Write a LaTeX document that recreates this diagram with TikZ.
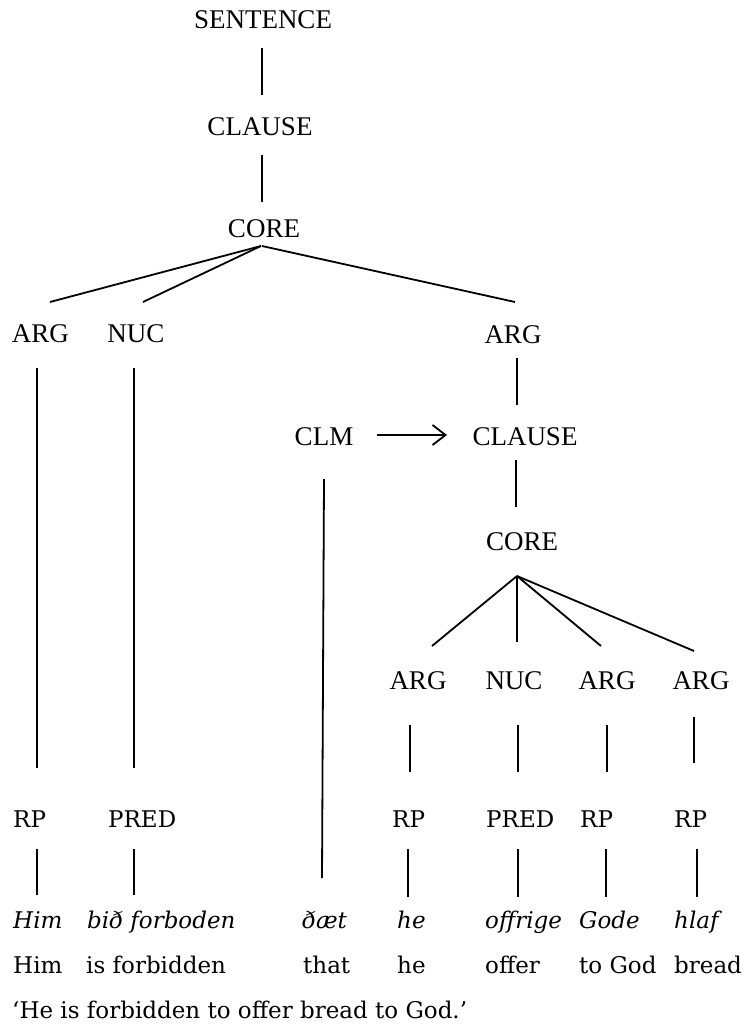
\documentclass[tikz,border=0pt]{standalone}
\usepackage{fontspec}
\setmainfont{DejaVu Serif}
\newfontfamily\treefont{Liberation Serif}
\usetikzlibrary{arrows.meta}

\tikzset{
  cat/.style={font=\treefont\fontsize{27}{30}\selectfont, inner sep=0pt, anchor=base},
  word/.style={font=\fontsize{23}{26}\selectfont, inner sep=0pt, anchor=base west},
  orig/.style={word, font=\itshape\fontsize{23}{26}\selectfont},
  branch/.style={line width=1.8pt, line cap=butt},
  marker/.style={branch, -{Straight Barb[length=13pt,width=20pt,line width=1.8pt]}},
}

\begin{document}
\begin{tikzpicture}[x=1pt, y=-1pt]
\useasboundingbox (0,0) rectangle (745,1025);

% --- layered structure of the main clause ---
\node[cat] (sent)    at (263,29)  {SENTENCE};
\node[cat] (clauseA) at (260,135) {CLAUSE};
\node[cat] (coreA)   at (264,237) {CORE};
\node[cat] (argA)    at (40.5,342) {ARG};
\node[cat] (nucA)    at (136,342) {NUC};
\node[cat] (argB)    at (513,343) {ARG};

% --- embedded clause and its linker ---
\node[cat] (clm)     at (324,445) {CLM};
\node[cat] (clauseB) at (525,445) {CLAUSE};
\node[cat] (coreB)   at (522,550) {CORE};
\node[cat] (argC)    at (418,689) {ARG};
\node[cat] (nucB)    at (514,689) {NUC};
\node[cat] (argD)    at (607,689) {ARG};
\node[cat] (argE)    at (701,689) {ARG};

% --- phrase level ---
\node[word] (rpA)   at (13,827)  {RP};
\node[word] (predA) at (108,827) {PRED};
\node[word] (rpB)   at (392,827) {RP};
\node[word] (predB) at (486,827) {PRED};
\node[word] (rpC)   at (580,827) {RP};
\node[word] (rpD)   at (674,827) {RP};

% --- Old English words ---
\node[orig] (himO)  at (13,928)  {Him};
\node[orig] (bidO)  at (87,928)  {bið forboden};
\node[orig] (daetO) at (302,928) {ðæt};
\node[orig] (heO)   at (397,928) {he};
\node[orig] (offO)  at (485,928) {offrige};
\node[orig] (godO)  at (579,928) {Gode};
\node[orig] (hlafO) at (674,928) {hlaf};

% --- gloss and translation ---
\node[word] (himG)  at (13,973)  {Him};
\node[word] (bidG)  at (86,973)  {is forbidden};
\node[word] (daetG) at (303,973) {that};
\node[word] (heG)   at (397,973) {he};
\node[word] (offG)  at (485,973) {offer};
\node[word] (godG)  at (579,973) {to God};
\node[word] (hlafG) at (674,973) {bread};
\node[word] (trans) at (12,1018) {‘He is forbidden to offer bread to God.’};

% --- branches of the main clause ---
\draw[branch] ([shift={(-1,19)}]sent.base) -- ([shift={(2,-40)}]clauseA.base);
\draw[branch] ([shift={(2,20)}]clauseA.base) -- ([shift={(-2,-35)}]coreA.base);
\draw[branch] ([shift={(-3,9)}]coreA.base) -- ([shift={(9.5,-40)}]argA.base);
\draw[branch] ([shift={(-3,9)}]coreA.base) -- ([shift={(7,-40)}]nucA.base);
\draw[branch] ([shift={(-2,9)}]coreA.base) -- ([shift={(2,-41)}]argB.base);
\draw[branch] ([shift={(-3.5,26)}]argA.base) -- ([shift={(24,-59)}]rpA.base west);
\draw[branch] ([shift={(-2,26)}]nucA.base) -- ([shift={(26,-59)}]predA.base west);
\draw[branch] ([shift={(4,15)}]argB.base) -- ([shift={(-8,-40)}]clauseB.base);

% --- clause linkage marker ---
\draw[marker] ([shift={(53,-10)}]clm.base) -- ([shift={(-78,-10)}]clauseB.base);
\draw[branch] ([shift={(0,34)}]clm.base) -- ([shift={(20,-50)}]daetO.base west);

% --- branches of the embedded clause ---
\draw[branch] ([shift={(-9,15)}]clauseB.base) -- ([shift={(-6,-43)}]coreB.base);
\draw[branch] ([shift={(-5,26)}]coreB.base) -- ([shift={(14,-43)}]argC.base);
\draw[branch] ([shift={(-5,26)}]coreB.base) -- ([shift={(3,-47)}]nucB.base);
\draw[branch] ([shift={(-5,26)}]coreB.base) -- ([shift={(-6,-43)}]argD.base);
\draw[branch] ([shift={(-5,26)}]coreB.base) -- ([shift={(-7,-38)}]argE.base);
\draw[branch] ([shift={(-8,36)}]argC.base) -- ([shift={(18,-55)}]rpB.base west);
\draw[branch] ([shift={(4,36)}]nucB.base) -- ([shift={(32,-55)}]predB.base west);
\draw[branch] ([shift={(0,36)}]argD.base) -- ([shift={(27,-55)}]rpC.base west);
\draw[branch] ([shift={(-7,28)}]argE.base) -- ([shift={(20,-64)}]rpD.base west);

% --- phrases down to the words ---
\draw[branch] ([shift={(24,22)}]rpA.base west) -- ([shift={(24,-33)}]himO.base west);
\draw[branch] ([shift={(26,22)}]predA.base west) -- ([shift={(47,-33)}]bidO.base west);
\draw[branch] ([shift={(16,22)}]rpB.base west) -- ([shift={(11,-31)}]heO.base west);
\draw[branch] ([shift={(32,22)}]predB.base west) -- ([shift={(33,-31)}]offO.base west);
\draw[branch] ([shift={(26,22)}]rpC.base west) -- ([shift={(27,-31)}]godO.base west);
\draw[branch] ([shift={(23,22)}]rpD.base west) -- ([shift={(23,-31)}]hlafO.base west);
\end{tikzpicture}
\end{document}
